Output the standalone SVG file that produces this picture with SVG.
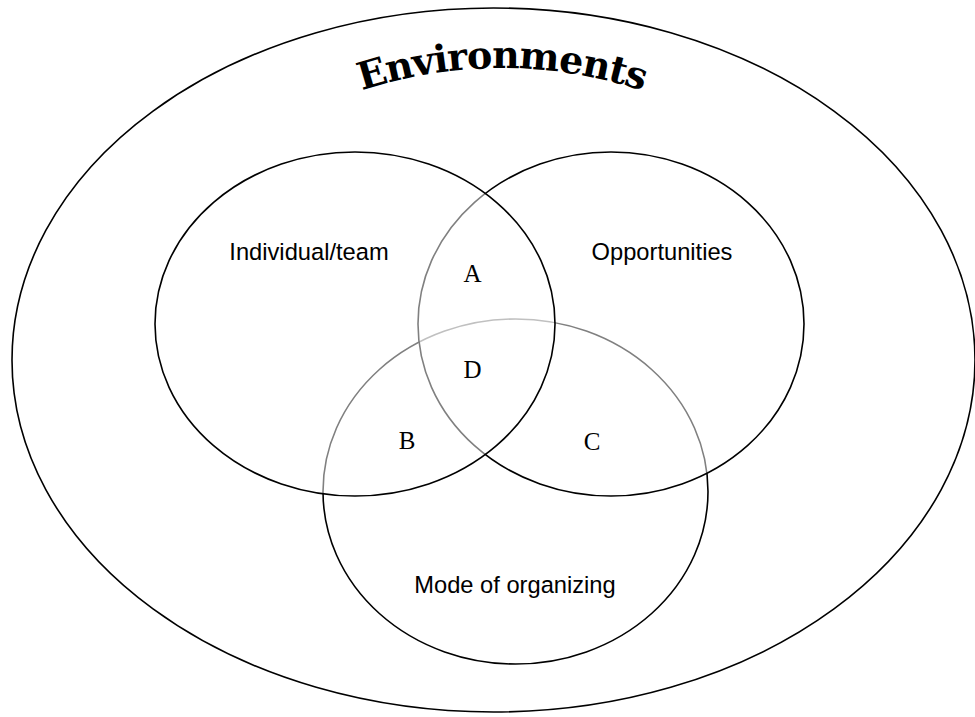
<svg xmlns="http://www.w3.org/2000/svg" width="975" height="717" viewBox="0 0 975 717">
<style>
.ring{fill:#ffffff;fill-opacity:0.5;stroke:#000;stroke-width:1.6}
.lbl{font-family:"Liberation Sans",Arial,sans-serif;font-size:23.7px;fill:#000;text-anchor:middle}
.let{font-family:"Liberation Serif","Times New Roman",serif;font-size:25px;fill:#000;text-anchor:middle}
.title{font-family:"DejaVu Serif",serif;font-weight:bold;font-size:38px;letter-spacing:-1px;fill:#000}
</style>
<defs>
<path id="arc" d="M 252,144 A 450 450 0 0 1 752,144" fill="none"/>
</defs>
<rect width="975" height="717" fill="#fff"/>
<g id="environments">
<ellipse cx="493.5" cy="360" rx="481.5" ry="352" fill="#fff" stroke="#000" stroke-width="1.6"/>
<text class="title"><textPath href="#arc" startOffset="50%" text-anchor="middle">Environments</textPath></text>
</g>
<g id="mode-of-organizing">
<ellipse class="ring" cx="515.5" cy="491.5" rx="192.5" ry="172.5"/>
<text class="lbl" x="515" y="593">Mode of organizing</text>
</g>
<g id="opportunities">
<ellipse class="ring" cx="611" cy="324" rx="193" ry="172"/>
<text class="lbl" x="662" y="260">Opportunities</text>
</g>
<g id="individual-team">
<ellipse class="ring" cx="355" cy="324" rx="200" ry="172"/>
<text class="lbl" x="309" y="260">Individual/team</text>
</g>
<g id="regions">
<text class="let" x="472.5" y="282">A</text>
<text class="let" x="407" y="449">B</text>
<text class="let" x="592" y="450">C</text>
<text class="let" x="472.5" y="378">D</text>
</g>
<g id="connectors"></g>
</svg>
